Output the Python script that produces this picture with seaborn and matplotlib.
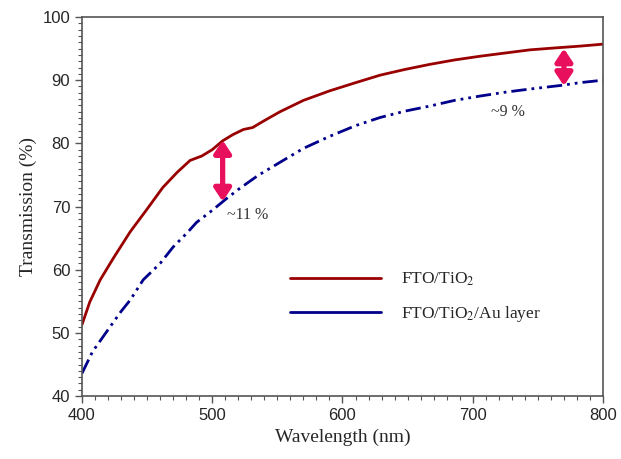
import numpy as np
import pandas as pd
import matplotlib
matplotlib.use("Agg")
import matplotlib.pyplot as plt
import seaborn as sns
from matplotlib.ticker import MultipleLocator

# ---- data ----
wl_tio2 = [400, 406, 414, 424, 437, 450, 462, 473, 483, 492, 500, 508, 516, 524, 531, 540,
           552, 570, 590, 610, 629, 648, 667, 686, 706, 725, 744, 763, 783, 800]
t_tio2 = [51.3, 54.9, 58.4, 61.8, 66.0, 69.6, 73.0, 75.4, 77.3, 78.0, 79.0, 80.4, 81.4, 82.2, 82.5, 83.6,
          85.0, 86.8, 88.3, 89.6, 90.8, 91.7, 92.5, 93.2, 93.8, 94.3, 94.8, 95.1, 95.4, 95.7]

wl_au = [400, 408, 421, 430, 437, 447, 460, 470, 481, 488, 500, 510, 520, 535, 552, 570,
         590, 610, 629, 648, 667, 686, 706, 725, 744, 769, 782, 800]
t_au = [43.6, 47.0, 50.8, 53.4, 55.2, 58.4, 61.0, 63.6, 65.9, 67.5, 69.4, 71.1, 72.7, 74.9, 77.0, 79.2,
        81.1, 82.8, 84.1, 85.1, 85.9, 86.8, 87.5, 88.1, 88.6, 89.2, 89.6, 90.0]

series_names = ["FTO/TiO$_2$", "FTO/TiO$_2$/Au layer"]

arrow_x = [508, 770]
arrow_top = [80.5, 95.0]
arrow_bottom = [70.8, 89.1]
arrow_labels = ["~11 %", "~9 %"]

x_ticks = [400, 500, 600, 700, 800]
y_ticks = [40, 50, 60, 70, 80, 90, 100]

df = pd.DataFrame({
    "Wavelength": wl_tio2 + wl_au,
    "T": t_tio2 + t_au,
    "Sample": [series_names[0]] * len(wl_tio2) + [series_names[1]] * len(wl_au),
})

sns.set_style("white")
plt.rcParams["mathtext.fontset"] = "stix"

fig = plt.figure(figsize=(6.21, 4.59), dpi=100)
ax = fig.add_axes([0.132, 0.137, 0.839, 0.826])

palette = {series_names[0]: "#990000", series_names[1]: "#00008B"}
sns.lineplot(data=df, x="Wavelength", y="T", hue="Sample", palette=palette,
             ax=ax, linewidth=2.0, legend=True)

lines = ax.get_lines()
lines[1].set_dashes([5.5, 1.8, 1.0, 1.8, 1.0, 1.8])

for xa, yt, yb in zip(arrow_x, arrow_top, arrow_bottom):
    ax.annotate("", xy=(xa, yt), xytext=(xa, yb),
                arrowprops=dict(arrowstyle="<|-|>,head_length=0.75,head_width=0.5",
                                color="#E8105C", lw=3.8, shrinkA=0, shrinkB=0))

serif = "Liberation Serif"
ax.text(511, 68.7, arrow_labels[0], fontsize=11.5, family=serif, color="#333333",
        ha="left", va="center")
ax.text(727, 85.0, arrow_labels[1], fontsize=11.5, family=serif, color="#333333",
        ha="center", va="center")

ax.set_xlim(400, 800)
ax.set_ylim(40, 100)
ax.set_xticks(x_ticks)
ax.set_yticks(y_ticks)
ax.xaxis.set_minor_locator(MultipleLocator(10))
ax.yaxis.set_minor_locator(MultipleLocator(1))
ax.tick_params(axis="both", which="major", direction="out", length=5, width=1,
               color="#555555", labelsize=12, bottom=True, left=True, top=False, right=False)
ax.tick_params(axis="both", which="minor", direction="out", length=3, width=0.8,
               color="#555555", bottom=True, left=True, top=False, right=False)
for lab in ax.get_xticklabels() + ax.get_yticklabels():
    lab.set_family("Liberation Sans")

for sp in ax.spines.values():
    sp.set_color("#555555")
    sp.set_linewidth(1.2)

ax.set_xlabel("Wavelength (nm)", fontsize=14, family=serif, labelpad=4)
ax.set_ylabel("Transmission (%)", fontsize=14, family=serif, labelpad=4)

leg = ax.legend(loc="upper left", bbox_to_anchor=(0.37, 0.372), frameon=False,
                prop={"family": serif, "size": 12.5}, handlelength=5.2,
                handletextpad=1.2, labelspacing=0.9)

fig.savefig("out.png", dpi=100)
